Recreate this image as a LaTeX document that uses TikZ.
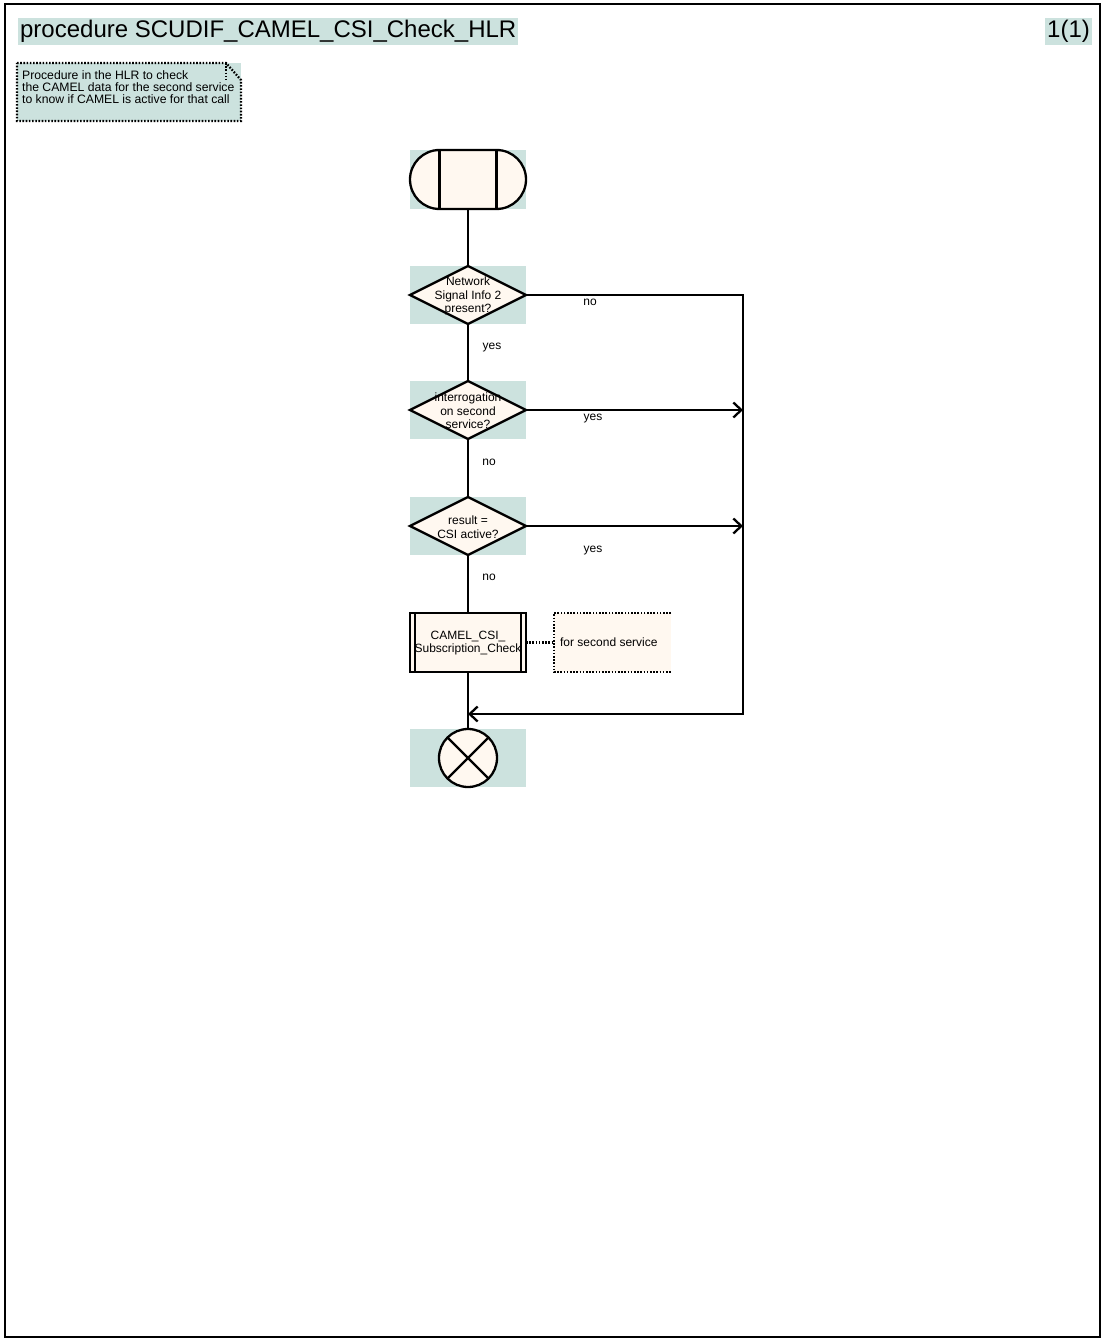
\documentclass[tikz,border=0pt]{standalone}
\usepackage{fontspec}
\setmainfont{Liberation Sans}
\usetikzlibrary{shapes.geometric,shapes.misc,arrows.meta,calc}
\definecolor{bgteal}{RGB}{204,226,222}
\definecolor{cream}{RGB}{255,248,240}
\begin{document}
\begin{tikzpicture}[x=1pt,y=-1pt,line width=2.3pt,
  bgbox/.style={fill=bgteal,draw=none,minimum width=116,minimum height=58,inner sep=0,outer sep=0},
  dec/.style={diamond,draw,fill=cream,minimum width=116,minimum height=58,inner sep=0,outer sep=0},
  txt/.style={font=\fontsize{12}{13.5}\selectfont,align=center,inner sep=0},
  lbl/.style={font=\fontsize{12}{13.5}\selectfont,inner sep=0},
  dotline/.style={line width=2.3pt,dash pattern=on 1.6pt off 1.6pt},
  arr/.style={-{Straight Barb[length=8pt,width=15pt,line width=2.3pt]}},
  ttl/.style={fill=bgteal,font=\fontsize{24}{28}\selectfont,inner xsep=2,inner ysep=0,minimum height=27}]
\useasboundingbox (0,0) rectangle (1104,1340);
% frame
\draw[line width=2pt] (4.5,4.5) rectangle (1100,1336.5);
% title
\node[ttl,anchor=west] (title) at (17,31.5) {procedure SCUDIF\_CAMEL\_CSI\_Check\_HLR};
\node[ttl,anchor=east] (page) at (1093,31.5) {1(1)};
% note
\node[fill=bgteal,minimum width=224,minimum height=58,inner sep=0,outer sep=0] (note) at (129,92) {};
\draw[dotline] (note.north west) -- ($(note.north east)+(-15,0)$) -- ($(note.north east)+(0,17)$) -- (note.south east) -- (note.south west) -- cycle;
\draw[dotline] ($(note.north east)+(-15,0)$) -- ($(note.north east)+(-15,17)$);
\node[font=\fontsize{12.2}{12}\selectfont,align=left,inner sep=0,anchor=west] (notetxt) at (21,87.5)
  {Procedure in the HLR to check\\the CAMEL data for the second service\\to know if CAMEL is active for that call};
% start
\node[bgbox,minimum height=59] (startbg) at (468,179.5) {};
\node[rounded rectangle,draw,fill=cream,minimum width=116,minimum height=59,inner sep=0,outer sep=0] (start) at (468,179.5) {};
\draw ($(start.north)+(-28.5,0)$) -- ($(start.south)+(-28.5,0)$);
\draw ($(start.north)+(28.5,0)$) -- ($(start.south)+(28.5,0)$);
% decision 1
\node[bgbox] (d1bg) at (468,295) {};
\node[dec] (d1) at (468,295) {};
\node[txt] (d1t) at (468,296) {Network\\Signal Info 2\\present?};
% decision 2
\node[bgbox] (d2bg) at (468,410) {};
\node[dec] (d2) at (468,410) {};
\node[txt] (d2t) at (468,411) {interrogation\\on second\\service?};
% decision 3
\node[bgbox] (d3bg) at (468,526) {};
\node[dec] (d3) at (468,526) {};
\node[txt] (d3t) at (468,527) {result =\\CSI active?};
% procedure call
\node[draw,fill=cream,minimum width=116,minimum height=59,inner sep=0,outer sep=0] (proc) at (468,642.5) {};
\draw ($(proc.north west)+(5,0)$) -- ($(proc.south west)+(5,0)$);
\draw ($(proc.north east)+(-5,0)$) -- ($(proc.south east)+(-5,0)$);
\node[txt] (proct) at (468,643) {CAMEL\_CSI\_\\Subscription\_Check};
% comment
\node[fill=cream,minimum width=117,minimum height=59,inner sep=0,outer sep=0] (cmt) at (612.5,642.5) {};
\draw[dotline] (cmt.north east) -- (cmt.north west) -- (cmt.south west) -- (cmt.south east);
\node[lbl,anchor=west] (cmtt) at (559,642.5) {for second service};
\draw[dotline] (proc.east) -- (cmt.west);
% end
\node[bgbox] (stopbg) at (468,758) {};
\node[circle,draw,fill=cream,minimum size=58,inner sep=0,outer sep=0] (stop) at (468,758) {};
\draw (stop.north west) -- (stop.south east);
\draw (stop.north east) -- (stop.south west);
% connectors
\coordinate (r1) at (743,295);
\coordinate (r2) at (743,714);
\coordinate (mrg) at (468,714);
\draw (start.south) -- (d1.north);
\draw (d1.south) -- (d2.north);
\draw (d2.south) -- (d3.north);
\draw (d3.south) -- (proc.north);
\draw (proc.south) -- (stop.north);
\draw[arr] (d1.east) -- (r1) -- (r2) -- (mrg);
\draw[arr] (d2.east) -- (d2.east -| r1);
\draw[arr] (d3.east) -- (d3.east -| r1);
% labels
\node[lbl] (l1) at (590,302) {no};
\node[lbl] (l2) at (492,348) {yes};
\node[lbl] (l3) at (593,419) {yes};
\node[lbl] (l4) at (489,462) {no};
\node[lbl] (l5) at (593,551) {yes};
\node[lbl] (l6) at (489,577) {no};
\end{tikzpicture}
\end{document}
